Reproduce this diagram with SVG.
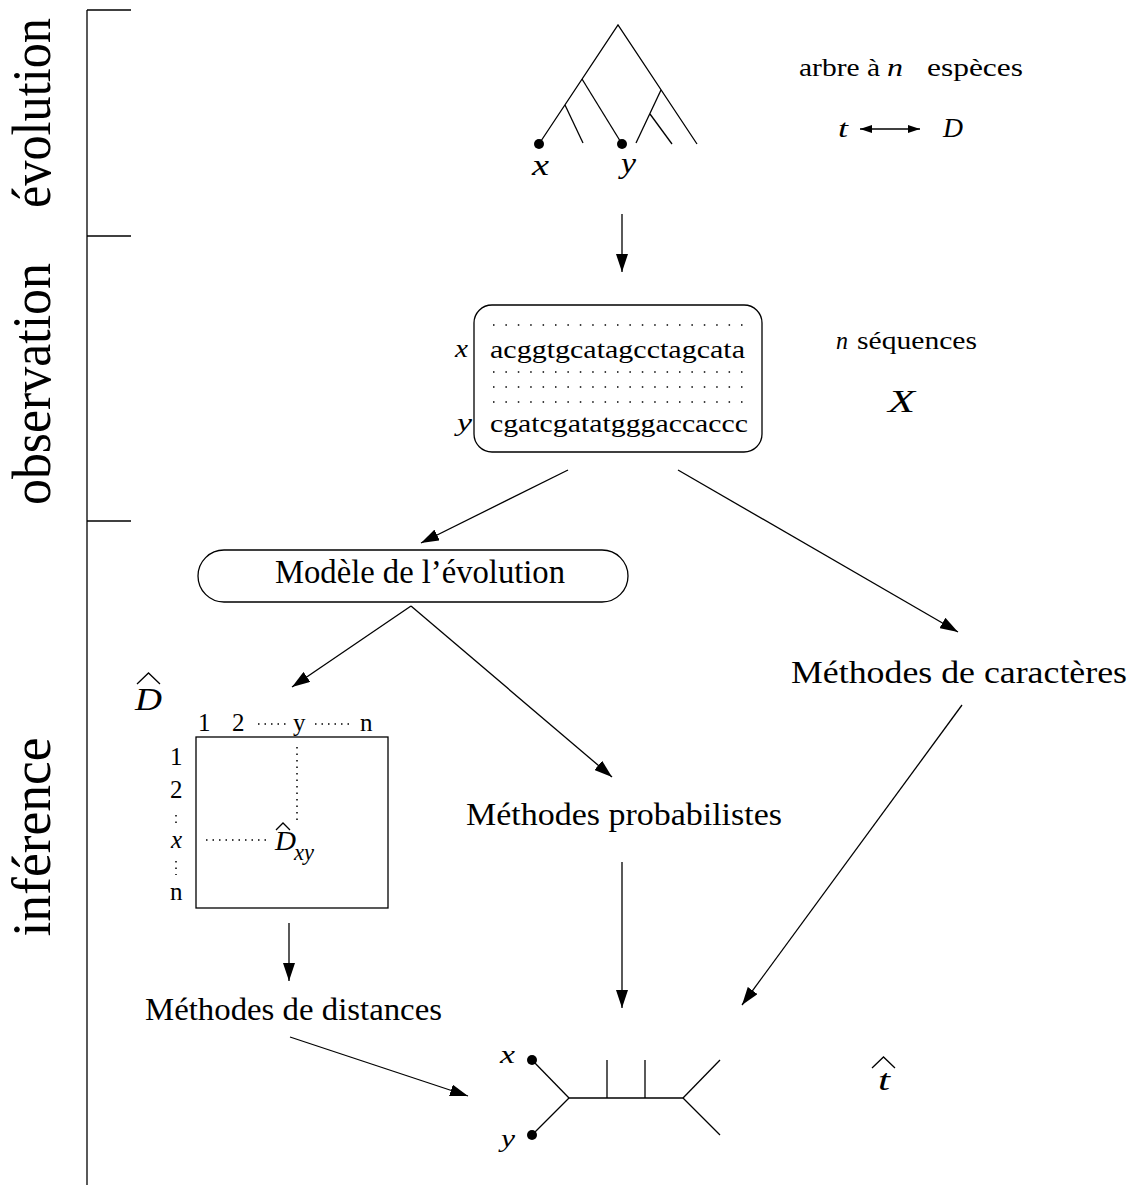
<svg xmlns="http://www.w3.org/2000/svg" width="1133" height="1185" viewBox="0 0 1133 1185">
<defs>
<style>
text{font-family:"Liberation Serif","Times New Roman",serif;fill:#000}
.it{font-style:italic}
.ln{stroke:#000;stroke-width:1.3;fill:none}
.ar{stroke:#000;stroke-width:1.3;fill:none;marker-end:url(#ah)}
.dot{stroke:#000;stroke-width:1.5;fill:none;stroke-dasharray:1.5 5}
.sdot{stroke:#000;stroke-width:1.5;fill:none;stroke-dasharray:1.5 10.9}
.box{stroke:#000;stroke-width:1.3;fill:#fff}
</style>
<marker id="ah" markerWidth="18" markerHeight="12" refX="18" refY="6" orient="auto" markerUnits="userSpaceOnUse"><path d="M0,0 L18,6 L0,12 z" fill="#000"/></marker>
<marker id="sah" markerWidth="12" markerHeight="8" refX="12" refY="4" orient="auto" markerUnits="userSpaceOnUse"><path d="M0,0 L12,4 L0,8 z" fill="#000"/></marker>
<marker id="sahs" markerWidth="12" markerHeight="8" refX="0" refY="4" orient="auto" markerUnits="userSpaceOnUse"><path d="M12,0 L0,4 L12,8 z" fill="#000"/></marker>
</defs>

<g id="stages">
<line class="ln" x1="87" y1="10" x2="87" y2="1185"/>
<line class="ln" x1="87" y1="10" x2="131" y2="10"/>
<line class="ln" x1="87" y1="236" x2="131" y2="236"/>
<line class="ln" x1="87" y1="521" x2="131" y2="521"/>
<text transform="translate(50,113) rotate(-90)" text-anchor="middle" font-size="54" textLength="190" lengthAdjust="spacingAndGlyphs">évolution</text>
<text transform="translate(50,384) rotate(-90)" text-anchor="middle" font-size="54" textLength="242" lengthAdjust="spacingAndGlyphs">observation</text>
<text transform="translate(50,837) rotate(-90)" text-anchor="middle" font-size="54" textLength="199" lengthAdjust="spacingAndGlyphs">inférence</text>
</g>

<g id="tree-true">
<polyline class="ln" points="539,144 618,25 697,144"/>
<line class="ln" x1="582" y1="79" x2="622" y2="144"/>
<line class="ln" x1="565" y1="105" x2="583" y2="143"/>
<line class="ln" x1="661" y1="90" x2="636" y2="143"/>
<line class="ln" x1="650" y1="114" x2="672" y2="144"/>
<circle cx="539" cy="144" r="5"/>
<circle cx="622" cy="144" r="5"/>
<text class="it" x="532" y="175" font-size="30" textLength="17" lengthAdjust="spacingAndGlyphs">x</text>
<text class="it" x="621" y="173" font-size="30" textLength="15" lengthAdjust="spacingAndGlyphs">y</text>
</g>

<g id="tree-label">
<text x="799" y="76" font-size="26" textLength="81" lengthAdjust="spacingAndGlyphs">arbre à</text>
<text class="it" x="887" y="76" font-size="26" textLength="16" lengthAdjust="spacingAndGlyphs">n</text>
<text x="927" y="76" font-size="26" textLength="96" lengthAdjust="spacingAndGlyphs">espèces</text>
<text class="it" x="838" y="137" font-size="26" textLength="10" lengthAdjust="spacingAndGlyphs">t</text>
<line stroke="#000" stroke-width="1.3" x1="860" y1="129" x2="920" y2="129" marker-start="url(#sahs)" marker-end="url(#sah)"/>
<text class="it" x="943" y="137" font-size="27" textLength="20" lengthAdjust="spacingAndGlyphs">D</text>
</g>

<g id="sequences">
<rect class="box" x="474" y="305" width="288" height="147" rx="18"/>
<line class="sdot" x1="493" y1="325" x2="748" y2="325"/>
<line class="sdot" x1="493" y1="372" x2="748" y2="372"/>
<line class="sdot" x1="493" y1="387" x2="748" y2="387"/>
<line class="sdot" x1="493" y1="402" x2="748" y2="402"/>
<text x="490" y="358" font-size="26" textLength="255" lengthAdjust="spacingAndGlyphs">acggtgcatagcctagcata</text>
<text x="490" y="432" font-size="26" textLength="258" lengthAdjust="spacingAndGlyphs">cgatcgatatgggaccaccc</text>
<text class="it" x="455" y="357" font-size="26" textLength="13" lengthAdjust="spacingAndGlyphs">x</text>
<text class="it" x="457" y="431" font-size="26" textLength="15" lengthAdjust="spacingAndGlyphs">y</text>
</g>

<g id="sequences-label">
<text class="it" x="836" y="349" font-size="26" textLength="12" lengthAdjust="spacingAndGlyphs">n</text>
<text x="857" y="349" font-size="26" textLength="120" lengthAdjust="spacingAndGlyphs">séquences</text>
<text class="it" x="888" y="412" font-size="31" textLength="27" lengthAdjust="spacingAndGlyphs">X</text>
</g>

<g id="modele">
<rect class="box" x="198" y="550" width="430" height="52" rx="26"/>
<text x="275" y="583" font-size="33" textLength="290" lengthAdjust="spacingAndGlyphs">Modèle de l’évolution</text>
</g>

<g id="matrix">
<text class="it" x="135" y="710" font-size="31" textLength="27" lengthAdjust="spacingAndGlyphs">D</text>
<polyline class="ln" points="137,684 148.5,673 160,684"/>
<rect x="196" y="737" width="192" height="171" fill="none" stroke="#000" stroke-width="1.3"/>
<text x="198" y="731" font-size="25">1</text>
<text x="232" y="731" font-size="25">2</text>
<line class="dot" x1="258" y1="724" x2="290" y2="724"/>
<text x="293" y="731" font-size="25">y</text>
<line class="dot" x1="315" y1="724" x2="350" y2="724"/>
<text x="360" y="731" font-size="25">n</text>
<text x="170" y="765" font-size="25">1</text>
<text x="170" y="798" font-size="25">2</text>
<line class="dot" x1="176" y1="815" x2="176" y2="827"/>
<text class="it" x="171" y="848" font-size="25">x</text>
<line class="dot" x1="176" y1="861" x2="176" y2="875"/>
<text x="170" y="900" font-size="25">n</text>
<line class="dot" x1="297" y1="747" x2="297" y2="820"/>
<line class="dot" x1="206" y1="840" x2="268" y2="840"/>
<text class="it" x="275" y="850" font-size="27" textLength="21" lengthAdjust="spacingAndGlyphs">D</text>
<polyline class="ln" points="276,830 283,823 290,830"/>
<text class="it" x="294" y="860" font-size="23" textLength="20" lengthAdjust="spacingAndGlyphs">xy</text>
</g>

<g id="distances">
<text x="145" y="1020" font-size="32" textLength="297" lengthAdjust="spacingAndGlyphs">Méthodes de distances</text>
</g>

<g id="probabilistes">
<text x="466" y="825" font-size="32" textLength="316" lengthAdjust="spacingAndGlyphs">Méthodes probabilistes</text>
</g>

<g id="caracteres">
<text x="791" y="683" font-size="32" textLength="336" lengthAdjust="spacingAndGlyphs">Méthodes de caractères</text>
</g>

<g id="tree-estimated">
<line class="ln" x1="532" y1="1060" x2="569" y2="1098"/>
<line class="ln" x1="532" y1="1135" x2="569" y2="1098"/>
<line class="ln" x1="569" y1="1098" x2="683" y2="1098"/>
<line class="ln" x1="607" y1="1060" x2="607" y2="1098"/>
<line class="ln" x1="645" y1="1060" x2="645" y2="1098"/>
<line class="ln" x1="683" y1="1098" x2="720" y2="1060"/>
<line class="ln" x1="683" y1="1098" x2="720" y2="1135"/>
<circle cx="532" cy="1060" r="5"/>
<circle cx="532" cy="1135" r="5"/>
<text class="it" x="500" y="1063" font-size="26" textLength="15" lengthAdjust="spacingAndGlyphs">x</text>
<text class="it" x="501" y="1147" font-size="26" textLength="14" lengthAdjust="spacingAndGlyphs">y</text>
<text class="it" x="878" y="1090" font-size="30" textLength="12" lengthAdjust="spacingAndGlyphs">t</text>
<polyline class="ln" points="872,1068 883.5,1057 895,1068"/>
</g>

<g id="connectors">
<line class="ar" x1="622" y1="214" x2="622" y2="272"/>
<line class="ar" x1="568" y1="470" x2="421" y2="543"/>
<line class="ar" x1="678" y1="470" x2="958" y2="632"/>
<line class="ar" x1="411" y1="606" x2="612" y2="777"/>
<line class="ar" x1="411" y1="606" x2="292" y2="687"/>
<line class="ar" x1="289" y1="923" x2="289" y2="981"/>
<line class="ar" x1="290" y1="1037" x2="468" y2="1096"/>
<line class="ar" x1="622" y1="862" x2="622" y2="1008"/>
<line class="ar" x1="962" y1="705" x2="742" y2="1005"/>
</g>
</svg>
